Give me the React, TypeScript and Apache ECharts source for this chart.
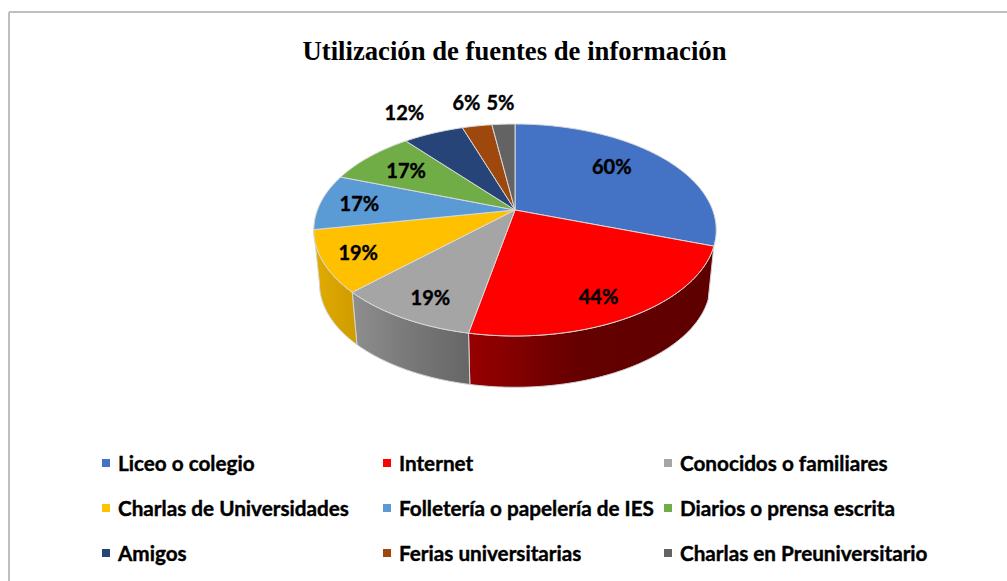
import React, { useEffect, useRef } from "react";
import * as echarts from "echarts";

const TITLE = "Utilización de fuentes de información";
const categories = [
  "Liceo o colegio",
  "Internet",
  "Conocidos o familiares",
  "Charlas de Universidades",
  "Folletería o papelería de IES",
  "Diarios o prensa escrita",
  "Amigos",
  "Ferias universitarias",
  "Charlas en Preuniversitario",
];
// Percentages printed on the chart
const printedPercent = [60, 44, 19, 19, 17, 17, 12, 6, 5];
const sliceSizes = [60.4, 45.1, 19.1, 18.6, 17.0, 16.9, 11.6, 5.7, 4.4];
const topColors = ["#4472C4", "#FF0000", "#A5A5A5", "#FFC000", "#5B9BD5", "#70AD47", "#264478", "#9E480E", "#636363"];
const wallColors: (string[] | null)[] = [
  null,
  ["#980000", "#640000", "#5E0000"],
  ["#8E8E8E", "#7A7A7A", "#666666"],
  ["#E2AC00", "#D9A400", "#CF9C00"],
  null, null, null, null, null,
];
const labelRadius = [0.71, 0.81, 0.82, 0.83, 0.8, 0.73, 1.35, 1.35, 1.33];
const labelAngleShift = [-6, 3, -1.6, 0, 0, 0, -1.6, 0, 0];
const legendColumns = [[0, 3, 6], [1, 4, 7], [2, 5, 8]];
const legendLeft = [102, 383, 664];

// Perspective projection of the disc
const CX = 515;
const TOP = { y0: 210, a: 197.6, b: 102.2 };
const BOTTOM = { y0: 264, a: 192, b: 100 };
const K = 0.1887;
const WALL_END = 259.1;
const FONT = "Lato";

function project(r: number, deg: number, p: { y0: number; a: number; b: number }) {
  const t = (deg * Math.PI) / 180;
  const u = r * Math.sin(t);
  const v = -r * Math.cos(t);
  const w = 1 - K * v;
  return [CX + (p.a * u) / w, p.y0 + (p.b * v) / w];
}

function arc(from: number, to: number, p: { y0: number; a: number; b: number }) {
  const pts: number[][] = [];
  const n = Math.max(2, Math.ceil(Math.abs(to - from)));
  for (let i = 0; i <= n; i++) pts.push(project(1, from + ((to - from) * i) / n, p));
  return pts;
}

const total = sliceSizes.reduce((s, v) => s + v, 0);

function buildSeries() {
  let acc = 0;
  return categories.map((name, idx) => {
    const start = (acc / total) * 360;
    acc += sliceSizes[idx];
    const end = (acc / total) * 360;
    return {
      type: "custom",
      name,
      coordinateSystem: "none",
      silent: true,
      itemStyle: { color: topColors[idx] },
      data: [[start, end, sliceSizes[idx], printedPercent[idx]]],
      renderItem: (_p: any, api: any) => {
        const a = api.value(0) as number;
        const b = api.value(1) as number;
        const children: any[] = [];
        const wall = wallColors[idx];
        const wEnd = Math.min(b, WALL_END);
        if (wall && a < wEnd) {
          children.push({
            type: "polygon",
            shape: { points: [...arc(a, wEnd, TOP), ...arc(wEnd, a, BOTTOM)] },
            style: {
              fill: new echarts.graphic.LinearGradient(0, 0, 1, 0, [
                { offset: 0, color: wall[0] },
                { offset: 0.45, color: wall[1] },
                { offset: 1, color: wall[2] },
              ]),
              stroke: "#D4D4D4",
              lineWidth: 1,
            },
          });
        }
        children.push({
          type: "polygon",
          shape: { points: [[CX, TOP.y0], ...arc(a, b, TOP)] },
          style: { fill: topColors[idx], stroke: "#D9D9D9", lineWidth: 1 },
        });
        const mid = (a + b) / 2 + labelAngleShift[idx];
        const [lx, ly] = project(labelRadius[idx], mid, TOP);
        children.push({
          type: "text",
          z2: 10,
          style: {
            text: `${api.value(3)}%`,
            x: lx,
            y: ly,
            align: "center",
            verticalAlign: "middle",
            font: `bold 20px ${FONT}`,
            fill: "#000000",
            stroke: "#000000",
            lineWidth: 0.4,
          },
        });
        return { type: "group", children };
      },
    };
  });
}

export default function App() {
  const ref = useRef<HTMLDivElement>(null);
  useEffect(() => {
    if (!ref.current) return;
    const chart = echarts.init(ref.current, undefined, { renderer: "svg" });
    chart.setOption({
      animation: false,
      backgroundColor: "#FFFFFF",
      title: {
        text: TITLE,
        left: 509.5,
        top: 32,
        textAlign: "center",
        textStyle: { fontFamily: "Liberation Serif", fontWeight: "bold", fontSize: 26.7, color: "#000000" },
      },
      legend: legendColumns.map((col, i) => ({
        orient: "vertical",
        left: legendLeft[i],
        top: 452,
        padding: 0,
        itemGap: 23,
        itemWidth: 8,
        itemHeight: 8,
        icon: "rect",
        selectedMode: false,
        data: col.map((k) => categories[k]),
        textStyle: {
          fontFamily: FONT,
          fontWeight: "bold",
          fontSize: 20.7,
          color: "#000000",
          padding: [0, 0, 0, 3],
          lineHeight: 22,
          textBorderColor: "#000000",
          textBorderWidth: 0.4,
        },
      })),
      graphic: [
        { type: "line", shape: { x1: 9, y1: 12, x2: 1007, y2: 12 }, style: { stroke: "#BFBFBF", lineWidth: 2 } },
        { type: "line", shape: { x1: 9, y1: 12, x2: 9, y2: 581 }, style: { stroke: "#BFBFBF", lineWidth: 2 } },
      ],
      series: buildSeries(),
    });
    return () => chart.dispose();
  }, []);
  return <div ref={ref} style={{ position: "absolute", left: 0, top: 0, width: 1007, height: 581 }} />;
}
